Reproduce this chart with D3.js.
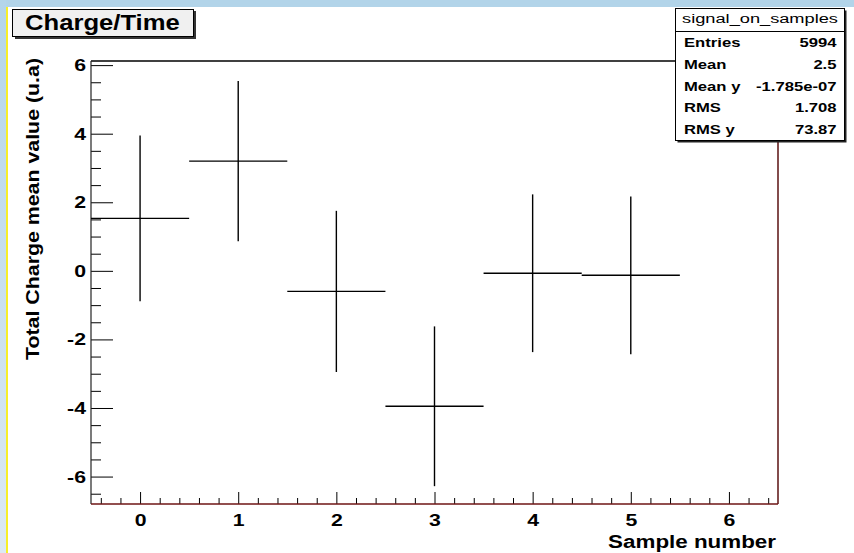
<!DOCTYPE html>
<html><head><meta charset="utf-8">
<script src="https://cdn.jsdelivr.net/npm/d3@7"></script>
<style>
body{margin:0;background:#fff}
svg{display:block}
text{font-family:"Liberation Sans",Arial,Helvetica,sans-serif}
</style>
</head><body>
<svg id="c" width="854" height="553"></svg>
<script>
// ---------- data ----------
const samples = [0, 1, 2, 3, 4, 5];
const meanValues = [1.53, 3.2, -0.6, -3.95, -0.07, -0.13];
const errValues = [2.42, 2.34, 2.35, 2.33, 2.3, 2.3];
const xTickValues = [0, 1, 2, 3, 4, 5, 6];
const yTickValues = [-6, -4, -2, 0, 2, 4, 6];
const statsTitle = "signal_on_samples";
const statsLabels = ["Entries", "Mean", "Mean y", "RMS", "RMS y"];
const statsValues = ["5994", "2.5", "-1.785e-07", "1.708", "73.87"];
const chartTitle = "Charge/Time";
const xTitle = "Sample number";
const yTitle = "Total Charge mean value (u.a)";

// ---------- layout ----------
const W = 854, H = 553;
const L = 91, R = 778, T = 61, B = 504;
const svg = d3.select("#c");

const defs = svg.append("defs");
const lg = defs.append("linearGradient").attr("id","lb").attr("x1",0).attr("y1",0).attr("x2",0).attr("y2",1);
lg.append("stop").attr("offset","0").attr("stop-color","#b4d5ea");
lg.append("stop").attr("offset","1").attr("stop-color","#dce9f4");
svg.append("rect").attr("x",0).attr("y",0).attr("width",W).attr("height",H).attr("fill","#ffffff");
svg.append("rect").attr("x",0).attr("y",0).attr("width",W).attr("height",7).attr("fill","#b2d4e9");
svg.append("rect").attr("x",0).attr("y",0).attr("width",6).attr("height",H).attr("fill","url(#lb)");
svg.append("rect").attr("x",6).attr("y",7).attr("width",2).attr("height",H-7).attr("fill","#f7ef2a");

const x = d3.scaleLinear().domain([-0.5, 6.5]).range([L, R]);
const y = d3.scaleLinear().domain([-6.8, 6.12]).range([B, T]);

const SX = 1.25;
const fmt = d => String(d);

const xMinor = d3.range(-0.4, 6.5, 0.2).map(v => +v.toFixed(2)).filter(v => Math.abs(v - Math.round(v)) > 1e-6);
const yMinor = d3.range(-6.5, 6.1, 0.5).filter(v => Math.abs(v/2 - Math.round(v/2)) > 1e-6);

const gx = svg.append("g").attr("transform", `translate(0,${B})`)
  .call(d3.axisBottom(x).tickValues(xTickValues).tickSizeInner(-12).tickSizeOuter(0).tickPadding(10).tickFormat(fmt));
svg.append("g").attr("transform", `translate(0,${B})`)
  .call(d3.axisBottom(x).tickValues(xMinor).tickSizeInner(-6).tickSizeOuter(0).tickFormat(""))
  .select(".domain").remove();
gx.select(".domain").remove();
gx.selectAll("text").attr("font-size", 17).attr("font-weight", "bold").attr("fill", "#000")
  .attr("font-family", '"Liberation Sans",Arial,sans-serif')
  .attr("transform", `scale(${SX},1)`);

const gy = svg.append("g").attr("transform", `translate(${L},0)`)
  .call(d3.axisLeft(y).tickValues(yTickValues).tickSizeInner(-22).tickSizeOuter(0).tickPadding(5).tickFormat(fmt));
svg.append("g").attr("transform", `translate(${L},0)`)
  .call(d3.axisLeft(y).tickValues(yMinor).tickSizeInner(-10).tickSizeOuter(0).tickFormat(""))
  .select(".domain").remove();
gy.select(".domain").remove();
gy.selectAll("text").attr("font-size", 17).attr("font-weight", "bold").attr("fill", "#000")
  .attr("font-family", '"Liberation Sans",Arial,sans-serif')
  .attr("x", -5 / SX)
  .attr("transform", `scale(${SX},1)`);
svg.selectAll(".tick line").attr("stroke", "#000").attr("stroke-width", 1);

// frame
svg.append("line").attr("x1", L).attr("x2", R).attr("y1", T).attr("y2", T).attr("stroke", "#000").attr("stroke-width", 1.5);
svg.append("line").attr("x1", L).attr("x2", L).attr("y1", T).attr("y2", B).attr("stroke", "#222").attr("stroke-width", 1.2);
svg.append("line").attr("x1", R).attr("x2", R).attr("y1", T).attr("y2", B).attr("stroke", "#5a1010").attr("stroke-width", 1.5);
svg.append("line").attr("x1", L).attr("x2", R).attr("y1", B).attr("y2", B).attr("stroke", "#6e1414").attr("stroke-width", 1.5);

// error crosses
const pts = samples.map((s, i) => ({s, m: meanValues[i], e: errValues[i]}));
const gp = svg.append("g").attr("stroke", "#000").attr("stroke-width", 1.4);
gp.selectAll("line.h").data(pts).join("line").attr("class","h")
  .attr("x1", d => x(d.s - 0.5)).attr("x2", d => x(d.s + 0.5))
  .attr("y1", d => y(d.m)).attr("y2", d => y(d.m));
gp.selectAll("line.v").data(pts).join("line").attr("class","v")
  .attr("x1", d => x(d.s)).attr("x2", d => x(d.s))
  .attr("y1", d => y(d.m + d.e)).attr("y2", d => y(d.m - d.e));

function txt(xp, yp, str, size, weight, anchor, sx) {
  return svg.append("text")
    .attr("transform", `translate(${xp},${yp}) scale(${sx},1)`)
    .attr("text-anchor", anchor).attr("font-size", size).attr("font-weight", weight)
    .attr("fill", "#000").text(str);
}

// axis titles
txt(R - 2, 548, xTitle, 17.5, "bold", "end", 1.28);
svg.append("text")
  .attr("transform", `translate(39,58) rotate(-90)`)
  .attr("text-anchor", "end").attr("font-size", 18.5).attr("font-weight", "bold")
  .attr("textLength", 302).attr("lengthAdjust", "spacingAndGlyphs")
  .text(yTitle);

// title box
svg.append("rect").attr("x", 15).attr("y", 11).attr("width", 181).attr("height", 28).attr("fill", "#333");
svg.append("rect").attr("x", 12.5).attr("y", 9.5).attr("width", 181).attr("height", 27).attr("fill", "#f0f0f0").attr("stroke", "#000").attr("stroke-width", 1);
txt(25, 30, chartTitle, 22.5, "bold", "start", 1.14);

// stats box
const sx0 = 675.5, sy0 = 8.5, sw = 169, sh = 132;
svg.append("rect").attr("x", sx0 + 2).attr("y", sy0 + 2).attr("width", sw).attr("height", sh).attr("fill", "#222");
svg.append("rect").attr("x", sx0).attr("y", sy0).attr("width", sw).attr("height", sh).attr("fill", "#fff").attr("stroke", "#000").attr("stroke-width", 1);
svg.append("line").attr("x1", sx0).attr("x2", sx0 + sw).attr("y1", 31.5).attr("y2", 31.5).attr("stroke", "#000");
txt(sx0 + sw/2, 23, statsTitle, 13.5, "normal", "middle", 1.35);
statsLabels.forEach((lab, i) => {
  const yy = 47 + i * 21.8;
  txt(684, yy, lab, 13, "bold", "start", 1.28);
  txt(836.5, yy, statsValues[i], 13, "bold", "end", 1.28);
});
</script>
</body></html>
